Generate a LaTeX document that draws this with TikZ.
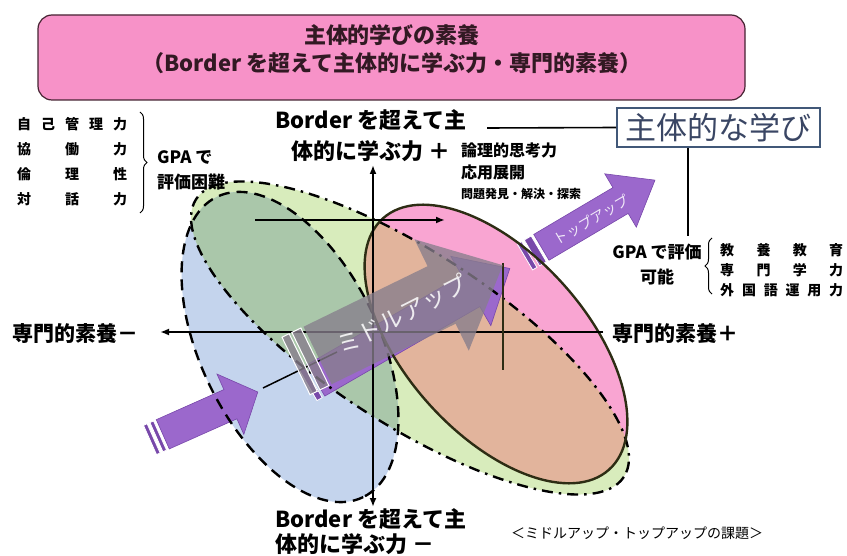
\documentclass[tikz,border=0pt]{standalone}
\usepackage{fontspec}
\setmainfont{Noto Sans CJK JP}
\usetikzlibrary{arrows.meta,decorations.pathreplacing}

\definecolor{ttlpink}{RGB}{247,146,200}
\definecolor{ttlline}{RGB}{70,35,50}
\definecolor{ttltext}{RGB}{50,25,35}
\definecolor{bluefill}{RGB}{196,212,237}
\definecolor{greenfill}{RGB}{216,236,188}
\definecolor{bgfill}{RGB}{170,199,170}
\definecolor{pinkfill}{RGB}{249,165,210}
\definecolor{tanfill}{RGB}{226,180,156}
\definecolor{olive}{RGB}{45,45,20}
\definecolor{purp}{RGB}{155,104,204}
\definecolor{purpdark}{RGB}{120,72,170}
\definecolor{midgray}{RGB}{135,126,140}
\definecolor{goalline}{RGB}{65,88,120}
\definecolor{goaltext}{RGB}{58,70,100}

\begin{document}
\begin{tikzpicture}[x=1pt,y=-1pt]

    \tikzset{
      blueE/.style={rotate around={-64:(290,347)}},
      greenE/.style={rotate around={-33:(410,338)}},
      pinkE/.style={rotate around={-48:(496,344)}},
      ovaline/.style={line width=2.4pt},
      axis/.style={line width=1.8pt, black},
      tipped/.style={-{Latex[length=9pt,width=7pt]}},
      purpbar/.style={fill=purpdark, draw=white, line width=0.8pt},
      purpbody/.style={fill=purp, draw=purpdark, line width=0.6pt},
      graybar/.style={fill=midgray, fill opacity=0.8, draw=white, line width=1pt},
      graybody/.style={fill=midgray, fill opacity=0.78, draw=none},
      uptext/.style={text=white, text opacity=0.85, inner sep=0pt},
      lbl/.style={font=\bfseries\fontsize{22}{25}\selectfont, inner sep=0pt},
      midlbl/.style={font=\bfseries\fontsize{17}{25}\selectfont, inner sep=0pt},
      smlbl/.style={font=\bfseries\fontsize{14}{17}\selectfont, inner sep=0pt, anchor=west},
      brc/.style={decorate, decoration={brace, amplitude=7pt}, line width=1pt},
    }
    \useasboundingbox (0,0) rectangle (847,556);

    % title
    \node[draw=ttlline, fill=ttlpink, line width=1.2pt, rounded corners=14pt,
          minimum width=707pt, minimum height=85pt] (tbox) at (391.5,57.5) {};
    \node[font=\bfseries\fontsize{22}{28}\selectfont, text=ttltext, align=center] (ttl) at (392,49)
        {主体的学びの素養\\（Border を超えて主体的に学ぶ力・専門的素養）};

    % ovals
    \fill[greenE, greenfill] (410,338) ellipse [x radius=255, y radius=86];
    \fill[blueE, bluefill] (290,347) ellipse [x radius=167, y radius=89];
    \begin{scope}
      \clip[blueE] (290,347) ellipse [x radius=167, y radius=89];
      \fill[greenE, bgfill] (410,338) ellipse [x radius=255, y radius=86];
    \end{scope}
    \fill[pinkE, pinkfill] (496,344) ellipse [x radius=169, y radius=90];
    \begin{scope}
      \clip[pinkE] (496,344) ellipse [x radius=169, y radius=90];
      \fill[greenE, tanfill] (410,338) ellipse [x radius=255, y radius=86];
    \end{scope}

    % purple arrows
    \begin{scope}[shift={(150,440)}, rotate=24]
      \filldraw[purpbar] (0,-16) rectangle (4,16);
      \filldraw[purpbar] (7,-16) rectangle (11,16);
      \filldraw[purpbody] (14,-16) -- (88,-16) -- (88,-33) -- (118,0) -- (88,33) -- (88,16) -- (14,16) -- cycle;
    \end{scope}
    \begin{scope}[shift={(525,257)}, rotate=30.6]
      \filldraw[purpbar] (0,-15) rectangle (5,15);
      \filldraw[purpbar] (8,-15) rectangle (16,15);
      \filldraw[purpbody] (19,-15) -- (111,-15) -- (111,-31) -- (151,0) -- (111,31) -- (111,15) -- (19,15) -- cycle;
      \node[uptext, font=\fontsize{14}{14}\selectfont, rotate=30.6] (tuLbl) at (76,2) {トップアップ};
    \end{scope}
    \begin{scope}[shift={(308,385)}, rotate=30]
      \filldraw[purpbar] (0,-18) rectangle (6,18);
      \filldraw[purpbody] (9,-18) -- (188,-18) -- (188,-40) -- (233,0) -- (188,40) -- (188,18) -- (9,18) -- cycle;
    \end{scope}

    % outlines
    \draw[blueE, ovaline, dash pattern=on 11pt off 7pt] (290,347) ellipse [x radius=167, y radius=89];
    \draw[greenE, ovaline, dash pattern=on 11pt off 6pt on 2.5pt off 6pt] (410,338) ellipse [x radius=255, y radius=86];
    \draw[pinkE, ovaline, olive] (496,344) ellipse [x radius=169, y radius=90];

    % axes
    \coordinate (axL) at (160,332);
    \coordinate (axR) at (603,332);
    \coordinate (axT) at (373,165);
    \coordinate (axB) at (373,507);
    \coordinate (hA) at (255,220);
    \coordinate (hB) at (445,220);
    \coordinate (vA) at (503,263);
    \coordinate (vB) at (503,370);
    \coordinate (dA) at (263,388);
    \coordinate (dB) at (337,352);
    \draw[axis, tipped] (axR) -- (axL);
    \draw[axis, {Latex[length=9pt,width=7pt]}-{Latex[length=9pt,width=7pt]}] (axT) -- (axB);
    \draw[axis, tipped] (hA) -- (hB);
    \draw[line width=1.5pt, olive] (vA) -- (vB);
    \draw[line width=1.5pt] (dA) -- (dB);

    % middle up
    \begin{scope}[shift={(296,366)}, rotate=26]
      \filldraw[graybar] (0,-32) rectangle (8,32);
      \filldraw[graybar] (11,-32) rectangle (21,32);
      \fill[graybody] (24,-32) -- (162,-32) -- (162,-62) -- (230,0) -- (162,62) -- (162,32) -- (24,32) -- cycle;
      \node[uptext, font=\fontsize{24}{24}\selectfont, rotate=27] (muLbl) at (118,0) {ミドルアップ};
    \end{scope}

    % labels
    \node[lbl, align=center, font=\bfseries\fontsize{22}{31}\selectfont] (bdTop) at (371,136) {Border を超えて主\\体的に学ぶ力 ＋};
    \node[lbl, align=left, anchor=west] (bdBot) at (275,532) {Border を超えて主\\体的に学ぶ力 －};
    \node[lbl, anchor=west, font=\bfseries\fontsize{21}{25}\selectfont] (spMinus) at (12,333) {専門的素養－};
    \node[lbl, anchor=west, font=\bfseries\fontsize{21}{25}\selectfont] (spPlus) at (612,333) {専門的素養＋};

    \node[draw=goalline, line width=2pt, fill=white, minimum width=203pt, minimum height=39pt,
          inner sep=0pt, text=goaltext, font=\fontsize{31}{31}\selectfont] (goal) at (718.5,127.5) {主体的な学び};
    \coordinate (lnA) at (487,128);
    \coordinate (gpaTop) at (688,236);
    \draw[line width=1.6pt] (lnA) -- (goal.west);
    \draw[line width=1.6pt] (gpaTop |- goal.south) -- (gpaTop);

    \node[smlbl, font=\bfseries\fontsize{16}{22}\selectfont] (ron1) at (461,150) {論理的思考力};
    \node[smlbl, font=\bfseries\fontsize{16}{22}\selectfont] (ron2) at (461,172) {応用展開};
    \node[smlbl, font=\bfseries\fontsize{12}{15}\selectfont] (ron3) at (461,194) {問題発見・解決・探索};

    \node[smlbl] (ls1) at (17,124) {\makebox[110pt]{自\hfill 己\hfill 管\hfill 理\hfill 力}};
    \node[smlbl] (ls2) at (17,149) {\makebox[110pt]{協\hfill 働\hfill 力}};
    \node[smlbl] (ls3) at (17,174) {\makebox[110pt]{倫\hfill 理\hfill 性}};
    \node[smlbl] (ls4) at (17,199) {\makebox[110pt]{対\hfill 話\hfill 力}};
    \draw[brc] (140,112) -- (140,213);
    \node[midlbl, anchor=west, align=left] (gpaL) at (157,170.5) {GPA で\\評価困難};

    \node[midlbl, align=center] (gpaR) at (657,264.5) {GPA で評価\\可能};
    \draw[brc] (712,294) -- (712,238);
    \node[smlbl] (rs1) at (720,250) {\makebox[123pt]{教\hfill 養\hfill 教\hfill 育}};
    \node[smlbl] (rs2) at (720,270) {\makebox[123pt]{専\hfill 門\hfill 学\hfill 力}};
    \node[smlbl] (rs3) at (720,290) {\makebox[123pt]{外\hfill 国\hfill 語\hfill 運\hfill 用\hfill 力}};

    \node[font=\fontsize{14}{14}\selectfont, inner sep=0pt] (cap) at (637,533) {＜ミドルアップ・トップアップの課題＞};

\end{tikzpicture}
\end{document}
